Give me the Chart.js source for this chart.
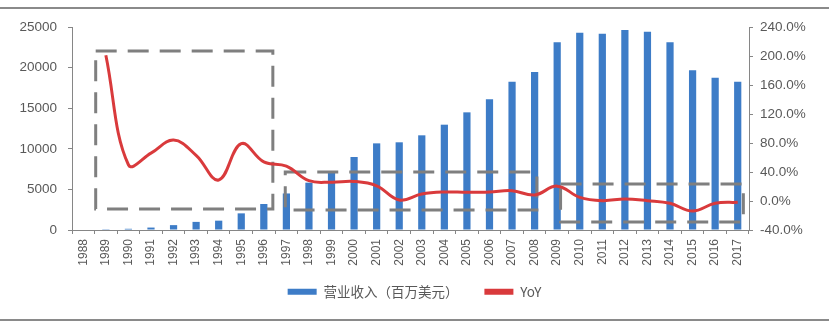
<!DOCTYPE html>
<html>
<head>
<meta charset="utf-8">
<script src="https://cdn.jsdelivr.net/npm/chart.js@4.4.1/dist/chart.umd.min.js"></script>
<style>
  body { margin: 0; background: #fff; }
  #quadro { position: relative; width: 829px; height: 328px; }
  #grafico { position: absolute; left: 0; top: 0; display: block; }
  .regua { position: absolute; left: 0; width: 829px; height: 2px; background: #8a8a8a; }
</style>
</head>
<body>
<div id="quadro">
  <canvas id="grafico" width="829" height="328"></canvas>
  <div class="regua" style="top:7px"></div>
  <div class="regua" style="top:319px"></div>
</div>
<script>
// anos
const anos = [
  "1988", "1989", "1990", "1991", "1992", "1993", "1994", "1995", "1996", "1997",
  "1998", "1999", "2000", "2001", "2002", "2003", "2004", "2005", "2006", "2007",
  "2008", "2009", "2010", "2011", "2012", "2013", "2014", "2015", "2016", "2017",
];

// 营业收入（百万美元）
const receita = [
  0, 100, 150, 300, 600, 1000, 1150, 2050, 3200, 4500,
  5830, 7100, 8990, 10670, 10800, 11660, 12970, 14490, 16090, 18270,
  19460, 23110, 24300, 24180, 24630, 24430, 23110, 19660, 18760, 18270,
];

// YoY (%)
const yoy = [
  null, 201, 50, 66, 84, 63, 29, 79, 54, 48,
  28, 26, 27, 21, 1.4, 9.7, 12.4, 12, 12.4, 14.2,
  8.3, 20.5, 5, 0.5, 2.8, 0.5, -3.2, -13.8, -3.2, -1.8,
];

const ticksEsquerda = [0, 5000, 10000, 15000, 20000, 25000];
const ticksDireita = [-40, 0, 40, 80, 120, 160, 200, 240];

// caixas tracejadas (indice do ano, valor no eixo da direita)
const caixasInicio = [0.55, 8.95, 21.15];
const caixasFim = [8.4, 20.1, 29.25];
const caixasTopo = [207, 40, 23.5];
const caixasBase = [-11, -12.5, -29];

const corTexto = "#595959";
const corEixo = "#868686";

const caixasTracejadas = {
  id: "caixasTracejadas",
  afterDatasetDraw(chart, args) {
    if (args.index !== 0) return;
    const ctx = chart.ctx;
    const x = chart.scales.x;
    const y = chart.scales.y1;
    ctx.save();
    ctx.strokeStyle = "#7f7f7f";
    ctx.lineWidth = 3;
    ctx.setLineDash([21, 11]);
    for (let i = 0; i < caixasInicio.length; i++) {
      const x0 = x.getPixelForValue(caixasInicio[i]);
      const x1 = x.getPixelForValue(caixasFim[i]);
      const y0 = y.getPixelForValue(caixasTopo[i]);
      const y1 = y.getPixelForValue(caixasBase[i]);
      ctx.strokeRect(x0, y0, x1 - x0, y1 - y0);
    }
    ctx.restore();
  },
};

// sobe a legenda um pouco, sem mexer na area do grafico
const subirLegenda = {
  id: "subirLegenda",
  afterLayout(chart) {
    chart.legend.top -= 11;
    chart.legend.bottom -= 11;
  },
};

Chart.defaults.font.family = "'Liberation Sans', Arial, 'Noto Sans CJK SC', sans-serif";
Chart.defaults.color = corTexto;

const grafico = new Chart(document.getElementById("grafico"), {
  type: "bar",
  data: {
    labels: anos,
    datasets: [
      {
        type: "bar",
        label: "营业收入（百万美元）",
        data: receita,
        backgroundColor: "#3d7cc7",
        barPercentage: 0.32,
        categoryPercentage: 1,
        yAxisID: "y",
        order: 2,
      },
      {
        type: "line",
        label: "YoY",
        data: yoy,
        borderColor: "#d93a3c",
        backgroundColor: "#d93a3c",
        borderWidth: 3,
        pointRadius: 0,
        tension: 0.4,
        yAxisID: "y1",
        order: 1,
      },
    ],
  },
  options: {
    responsive: false,
    animation: false,
    layout: { padding: { left: 0, right: 0, top: 27, bottom: 8.5 } },
    plugins: {
      tooltip: { enabled: false },
      legend: {
        position: "bottom",
        labels: {
          boxWidth: 29,
          boxHeight: 6,
          padding: 26,
          font: { size: 13.5, family: "'Noto Sans CJK SC', 'Liberation Sans', sans-serif" },
          color: corTexto,
          sort: (a, b) => a.datasetIndex - b.datasetIndex,
          generateLabels(chart) {
            const itens = Chart.defaults.plugins.legend.labels.generateLabels(chart);
            itens.forEach((item) => {
              item.lineWidth = 0;
            });
            return itens;
          },
        },
      },
    },
    scales: {
      x: {
        grid: { offset: true, drawOnChartArea: false, tickLength: 4, color: corEixo },
        border: { color: corEixo, width: 1 },
        ticks: { autoSkip: false, minRotation: 90, maxRotation: 90, padding: 5, font: { size: 12 } },
        afterFit(scale) {
          scale.height = 40;
        },
      },
      y: {
        position: "left",
        min: 0,
        max: 25000,
        afterBuildTicks(scale) {
          scale.ticks = ticksEsquerda.map((v) => ({ value: v }));
        },
        grid: { drawOnChartArea: false, tickLength: 4, color: corEixo },
        border: { color: corEixo, width: 1 },
        ticks: { padding: 11, font: { size: 13.5 }, callback: (v) => String(v) },
        afterFit(scale) {
          scale.width = 72;
        },
      },
      y1: {
        position: "right",
        min: -40,
        max: 240,
        afterBuildTicks(scale) {
          scale.ticks = ticksDireita.map((v) => ({ value: v }));
        },
        grid: { drawOnChartArea: false, tickLength: 4, color: corEixo },
        border: { color: corEixo, width: 1 },
        ticks: {
          padding: 7,
          font: { size: 13.5 },
          callback: (v) => v.toFixed(1) + "%",
        },
        afterFit(scale) {
          scale.width = 80;
        },
      },
    },
  },
  plugins: [caixasTracejadas, subirLegenda],
});
</script>
</body>
</html>
